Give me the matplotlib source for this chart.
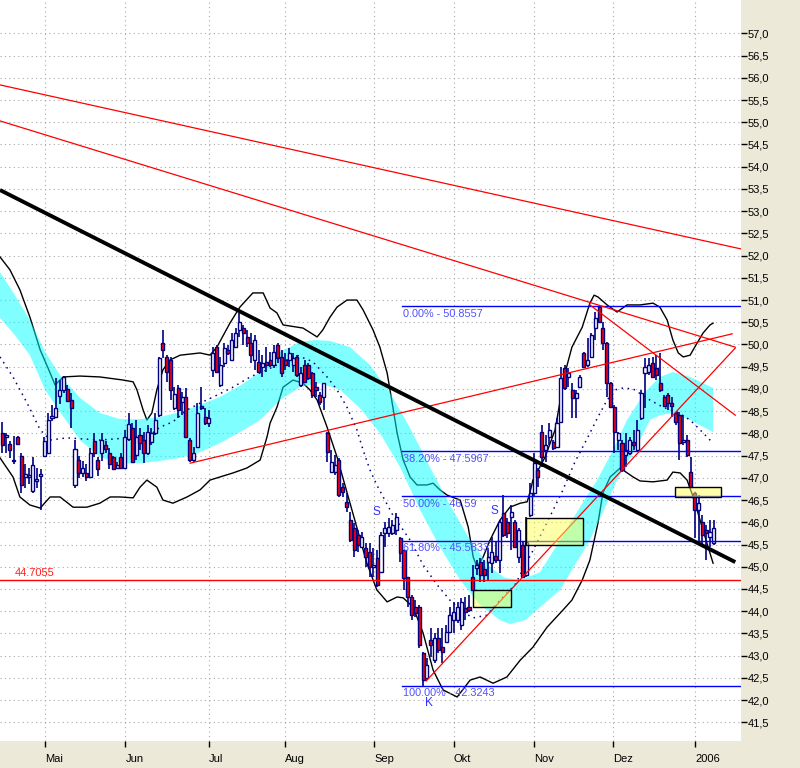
import matplotlib
matplotlib.use('Agg')
import matplotlib.pyplot as plt
from matplotlib.patches import Rectangle
import numpy as np

plt.rcParams['font.family'] = ['Liberation Sans', 'DejaVu Sans']

# ---------------- candle data (trading-day index 0..186) ----------------
opens = [
    48.00, 47.93, 47.77, 47.41, 47.91, 47.50, 47.03, 47.03, 46.70, 46.94,
    47.05, 47.50, 47.57, 48.34, 48.36, 48.85, 48.97, 49.01, 48.76, 46.83,
    47.41, 47.12, 47.12, 47.01, 47.84, 47.41, 47.55, 47.75, 47.55, 47.46,
    47.23, 47.48, 47.23, 47.88, 48.12, 47.51, 47.96, 47.85, 47.56, 47.81,
    48.01, 48.41, 50.03, 49.72, 49.65, 48.57, 49.02, 48.71, 48.82, 47.85,
    47.40, 47.69, 48.62, 48.37, 48.23, 49.43, 49.94, 49.09, 49.58, 49.88,
    49.65, 49.94, 50.33, 50.37, 50.17, 50.03, 49.65, 49.60, 49.49, 49.60,
    49.65, 49.54, 49.99, 49.72, 49.65, 49.65, 49.54, 49.72, 49.09, 49.54,
    49.54, 49.36, 49.04, 48.86, 48.82, 48.01, 47.13, 47.13, 47.40, 46.79,
    46.46, 46.05, 45.87, 45.71, 45.44, 45.42, 45.33, 44.99, 45.20, 44.88,
    45.76, 45.76, 45.76, 45.83, 45.65, 45.38, 44.77, 44.32, 44.09, 44.09,
    43.06, 42.50, 43.35, 42.90, 43.40, 43.19, 43.31, 43.53, 43.80, 43.80,
    43.69, 44.07, 44.09, 44.77, 44.97, 45.11, 44.95, 45.11, 45.08, 45.24,
    45.15, 46.21, 46.01, 46.12, 46.01, 45.22, 45.49, 44.81, 46.16, 46.66,
    47.18, 48.03, 47.63, 47.92, 47.81, 47.69, 48.26, 49.47, 49.27, 48.98,
    48.80, 49.04, 49.81, 49.54, 49.72, 50.37, 50.84, 50.37, 50.03, 49.13,
    48.59, 47.85, 47.78, 47.51, 47.56, 47.81, 47.63, 48.35, 49.36, 49.38,
    49.58, 49.47, 49.13, 48.82, 48.86, 48.68, 48.46, 48.41, 47.81, 47.85,
    47.13, 46.66, 46.28, 46.01, 45.83, 45.67, 45.53,
]
highs = [
    48.25, 48.00, 47.84, 47.95, 47.95, 47.55, 47.32, 47.23, 47.46, 47.23,
    47.21, 47.91, 48.45, 48.63, 49.24, 49.21, 49.30, 49.08, 48.90, 47.86,
    47.50, 47.39, 47.32, 47.68, 48.02, 47.46, 48.00, 47.84, 47.68, 47.50,
    47.35, 47.55, 48.07, 48.45, 48.23, 48.30, 48.12, 48.03, 48.19, 48.12,
    48.46, 49.72, 50.33, 49.76, 49.72, 49.04, 49.09, 48.93, 49.02, 47.90,
    47.69, 48.68, 49.04, 48.57, 48.53, 49.94, 49.99, 49.72, 50.03, 49.99,
    50.26, 50.37, 50.71, 50.44, 50.33, 50.26, 50.21, 49.88, 49.76, 49.94,
    49.83, 49.99, 50.03, 49.88, 49.81, 49.92, 49.81, 49.76, 49.49, 49.65,
    49.58, 49.38, 49.16, 48.93, 49.13, 48.03, 47.63, 47.51, 47.45, 46.88,
    46.66, 46.23, 45.98, 45.83, 45.78, 45.53, 45.53, 45.42, 45.38, 45.78,
    46.01, 46.10, 46.05, 46.21, 45.67, 45.38, 44.77, 44.36, 44.25, 44.14,
    43.08, 42.95, 43.62, 43.51, 43.62, 43.62, 43.69, 44.09, 44.21, 44.21,
    44.30, 44.32, 44.36, 45.04, 45.15, 45.20, 45.15, 45.42, 45.67, 45.56,
    46.05, 46.61, 46.10, 46.39, 46.05, 45.87, 45.56, 46.12, 46.88, 47.56,
    47.22, 48.19, 47.96, 48.23, 47.85, 48.35, 49.49, 49.54, 49.47, 49.13,
    48.98, 49.31, 49.83, 50.15, 50.26, 50.73, 50.86, 50.51, 50.06, 49.16,
    48.64, 48.03, 47.85, 48.01, 47.92, 48.08, 48.30, 48.98, 49.70, 49.70,
    49.72, 49.76, 49.81, 48.86, 48.91, 48.82, 48.48, 48.48, 48.41, 47.96,
    47.47, 46.68, 46.61, 46.16, 45.94, 46.05, 46.05,
]
lows = [
    47.55, 47.55, 47.44, 47.32, 47.73, 46.67, 46.78, 46.87, 46.67, 46.78,
    46.27, 47.46, 47.57, 48.29, 48.36, 48.67, 48.92, 48.70, 48.13, 46.78,
    46.99, 47.01, 46.94, 46.99, 47.46, 47.05, 47.39, 47.55, 47.21, 47.17,
    47.21, 47.21, 47.21, 47.84, 47.33, 47.40, 47.63, 47.33, 47.51, 47.74,
    47.96, 48.37, 49.70, 49.16, 48.75, 48.53, 48.35, 48.41, 47.90, 47.36,
    47.36, 47.69, 48.53, 48.19, 48.14, 49.27, 49.38, 49.04, 49.49, 49.76,
    49.65, 49.92, 50.17, 49.99, 49.94, 49.58, 49.43, 49.36, 49.27, 49.38,
    49.49, 49.47, 49.58, 49.27, 49.43, 49.49, 49.38, 49.27, 49.04, 49.13,
    49.20, 48.80, 48.82, 48.64, 48.53, 47.36, 47.13, 47.06, 46.57, 46.57,
    46.23, 45.56, 45.22, 45.33, 45.42, 44.99, 44.77, 44.77, 44.54, 44.88,
    45.44, 45.67, 45.71, 45.71, 45.11, 44.48, 44.09, 43.80, 43.87, 43.17,
    42.32, 42.45, 42.97, 42.83, 43.06, 42.83, 43.28, 43.51, 43.51, 43.73,
    43.58, 43.80, 43.98, 44.48, 44.81, 44.66, 44.66, 44.70, 44.86, 45.08,
    44.86, 45.67, 45.65, 45.38, 45.44, 45.08, 44.75, 44.77, 46.12, 46.57,
    46.79, 47.24, 47.36, 47.74, 47.63, 47.69, 48.23, 48.98, 49.04, 48.35,
    48.35, 49.02, 49.47, 49.49, 49.70, 50.10, 50.51, 49.88, 48.82, 48.59,
    47.56, 47.63, 47.13, 47.24, 47.51, 47.63, 47.58, 48.30, 48.57, 49.31,
    49.27, 49.20, 48.93, 48.59, 48.53, 48.37, 48.19, 47.40, 47.74, 47.47,
    46.79, 45.65, 45.49, 45.49, 45.15, 45.44, 45.49,
]
closes = [
    47.73, 47.95, 47.62, 47.37, 47.77, 46.83, 47.08, 47.05, 47.30, 46.96,
    47.08, 47.82, 48.31, 48.40, 48.58, 48.97, 49.26, 48.74, 48.58, 47.66,
    47.12, 47.23, 47.01, 47.57, 47.55, 47.21, 47.86, 47.66, 47.32, 47.21,
    47.30, 47.23, 47.91, 48.22, 47.36, 47.92, 47.78, 47.56, 48.03, 48.01,
    48.30, 49.70, 49.88, 49.38, 48.98, 48.89, 48.53, 48.82, 47.92, 47.40,
    47.56, 48.46, 48.57, 48.23, 48.35, 49.81, 49.38, 49.54, 49.92, 49.81,
    50.10, 50.26, 50.51, 50.26, 50.03, 49.76, 50.10, 49.38, 49.58, 49.54,
    49.54, 49.83, 49.70, 49.36, 49.54, 49.81, 49.70, 49.31, 49.36, 49.16,
    49.25, 48.86, 48.98, 48.71, 49.13, 47.58, 47.36, 47.29, 46.61, 46.68,
    46.34, 45.60, 45.38, 45.49, 45.67, 45.22, 44.99, 45.04, 44.59, 45.71,
    45.87, 45.89, 45.94, 46.12, 45.31, 44.75, 44.32, 43.91, 43.96, 43.24,
    42.45, 42.79, 43.24, 43.40, 43.13, 43.08, 43.53, 43.91, 43.98, 44.09,
    44.21, 43.98, 44.03, 44.48, 45.04, 44.81, 44.81, 45.22, 45.33, 45.15,
    46.01, 45.71, 45.76, 46.23, 45.44, 45.83, 44.77, 45.56, 46.66, 47.33,
    47.02, 47.47, 47.74, 48.08, 47.67, 48.23, 49.25, 49.02, 49.36, 48.80,
    48.91, 49.27, 49.49, 49.65, 50.21, 50.60, 50.51, 50.03, 49.13, 48.59,
    48.03, 48.01, 47.18, 47.63, 47.85, 47.74, 48.08, 48.91, 49.49, 49.54,
    49.27, 49.31, 48.98, 48.62, 48.68, 48.62, 48.26, 47.78, 47.85, 47.51,
    46.79, 46.28, 46.43, 45.71, 45.76, 45.78, 45.87,
]

# ---------------- axis labels ----------------
month_labels = ['Mai', 'Jun', 'Jul', 'Aug', 'Sep', 'Okt', 'Nov', 'Dez', '2006']
month_pos = [11.2, 32.2, 54.0, 73.9, 97.2, 118.0, 138.9, 159.7, 181.1]

# ---------------- Bollinger bands ----------------
bb_up_x = [-0.6, 2.0, 4.6, 7.2, 9.9, 12.5, 13.8, 15.9, 20.3, 25.5, 31.6, 34.2, 35.2, 36.8, 37.8,
           39.1, 40.4, 42.0, 43.8, 46.5, 51.7, 54.3, 56.1, 59.5, 62.1, 65.5, 68.2, 70.0, 71.8,
           73.4, 78.6, 82.3, 83.8, 85.7, 87.5, 90.1, 92.7, 94.3, 96.9, 98.7, 100.6, 102.1, 103.2,
           104.8, 106.6, 108.4, 111.0, 112.6, 114.4, 116.3, 119.7, 121.8, 123.1, 124.1, 125.7,
           127.5, 130.1, 132.7, 135.4, 137.2, 137.9, 138.7, 141.9, 144.5, 147.1, 148.9, 151.6,
           153.6, 154.7, 155.7, 158.1, 160.7, 163.3, 166.7, 170.1, 171.9, 173.8, 175.3, 176.7,
           178.0, 179.8, 181.6, 183.2, 185.0, 185.8]
bb_up = [51.97, 51.68, 51.23, 50.62, 49.88, 49.36, 49.09, 49.27, 49.29, 49.27, 49.20, 49.16, 48.98,
         48.53, 48.30, 48.46, 48.98, 49.43, 49.65, 49.76, 49.81, 49.76, 49.94, 50.48, 50.84, 51.16,
         51.16, 50.82, 50.71, 50.44, 50.37, 50.17, 50.33, 50.62, 50.84, 51.00, 51.00, 50.78, 50.33,
         49.94, 49.36, 48.59, 48.01, 47.40, 47.02, 46.84, 46.84, 46.88, 46.73, 46.61, 46.50, 45.89,
         45.22, 44.99, 45.22, 45.60, 46.05, 46.34, 46.43, 46.46, 46.66, 46.95, 47.47, 48.08, 49.36,
         49.94, 50.39, 50.93, 51.11, 51.07, 50.89, 50.73, 50.89, 50.89, 50.93, 50.84, 50.55, 50.10,
         49.81, 49.72, 49.76, 50.03, 50.26, 50.44, 50.48]
bb_lo_x = [-0.6, 2.8, 4.6, 7.2, 9.9, 12.5, 15.1, 18.5, 22.1, 25.5, 28.2, 30.8, 34.2, 36.0, 37.8,
           40.4, 42.0, 44.6, 48.3, 51.7, 54.3, 56.9, 60.3, 63.9, 67.4, 69.2, 70.0, 71.8, 73.4,
           76.0, 78.6, 80.4, 82.3, 84.9, 87.5, 90.9, 95.3, 97.9, 100.6, 103.2, 104.8, 107.4,
           110.0, 112.6, 115.2, 118.9, 122.3, 124.9, 128.3, 131.9, 135.4, 138.7, 142.4, 146.6,
           148.9, 151.6, 153.6, 155.7, 157.0, 158.9, 161.5, 164.9, 166.7, 170.1, 173.8, 175.3,
           177.2, 179.0, 180.6, 182.4, 184.2, 185.8]
bb_lo = [47.45, 47.02, 46.57, 46.39, 46.32, 46.57, 46.57, 46.34, 46.34, 46.43, 46.57, 46.57, 46.55,
         46.79, 46.95, 46.79, 46.50, 46.43, 46.57, 46.73, 46.95, 47.02, 47.11, 47.22, 47.40, 47.92,
         48.23, 48.59, 49.04, 49.20, 49.13, 48.98, 48.75, 48.14, 47.47, 46.43, 45.08, 44.48, 44.21,
         44.32, 44.30, 44.09, 43.51, 42.68, 42.23, 42.07, 42.45, 42.52, 42.38, 42.52, 42.90, 43.19,
         43.64, 44.03, 44.25, 44.70, 45.15, 45.98, 46.66, 47.02, 47.22, 47.02, 46.93, 46.91, 46.95,
         47.13, 47.11, 46.95, 46.57, 46.05, 45.53, 45.08]
bb_mid_x = [-0.6, 2.8, 6.5, 9.9, 12.5, 16.9, 25.5, 36.0, 38.6, 41.2, 44.6, 48.3, 51.7, 56.1, 60.3,
            64.8, 69.2, 73.4, 77.0, 81.2, 84.9, 87.5, 90.1, 92.7, 94.3, 96.1, 97.9, 102.1, 106.6,
            110.0, 113.7, 117.0, 120.4, 123.1, 126.7, 130.1, 134.0, 138.5, 142.7, 146.3, 149.7,
            153.1, 155.7, 158.1, 160.2, 162.3, 164.9, 169.3, 172.7, 176.4, 179.8, 182.4, 185.8]
bb_mid = [49.72, 49.27, 48.68, 48.08, 47.85, 47.90, 47.85, 47.92, 47.96, 48.14, 48.26, 48.53, 48.68,
          48.86, 49.04, 49.27, 49.43, 49.61, 49.76, 49.61, 49.27, 48.98, 48.59, 48.08, 47.63, 47.18,
          46.84, 46.16, 45.60, 45.04, 44.59, 44.25, 43.98, 43.85, 43.91, 44.25, 44.59, 45.33, 46.05,
          46.68, 47.36, 47.92, 48.37, 48.75, 48.98, 49.02, 49.00, 48.75, 48.59, 48.48, 48.30, 48.08,
          47.78]

# ---------------- cyan channel ----------------
band_top_x = [-0.6, 3.3, 7.2, 11.2, 15.1, 20.3, 25.5, 30.8, 36.0, 41.2, 46.5, 51.7, 56.9, 62.1,
              67.4, 72.6, 77.8, 81.8, 85.7, 90.9, 96.1, 101.4, 106.6, 111.8, 117.0, 122.3, 127.5,
              131.4, 135.4, 140.6, 145.8, 151.0, 155.5, 159.4, 163.3, 168.0, 171.9, 175.3, 179.8,
              185.8]
band_top = [51.63, 51.11, 50.55, 49.83, 49.31, 48.80, 48.46, 48.32, 48.32, 48.37, 48.48, 48.64,
            48.82, 49.07, 49.38, 49.83, 50.06, 50.10, 50.08, 49.94, 49.54, 48.91, 48.12, 47.24,
            46.39, 45.60, 44.99, 44.75, 44.70, 44.88, 45.60, 46.34, 46.95, 47.58, 48.30, 48.93,
            49.27, 49.38, 49.27, 49.02]
band_bot_x = [-0.6, 3.3, 7.2, 11.2, 15.1, 20.3, 25.5, 30.8, 36.0, 41.2, 46.5, 51.7, 56.9, 62.1,
              67.4, 72.6, 77.8, 83.1, 88.3, 93.5, 98.7, 104.0, 109.2, 114.4, 119.7, 124.9, 130.1,
              132.7, 136.7, 140.6, 145.8, 149.7, 153.6, 157.6, 160.7, 165.4, 169.3, 171.9, 175.3,
              179.8, 185.8]
band_bot = [50.60, 50.21, 49.76, 48.98, 48.48, 47.85, 47.47, 47.33, 47.33, 47.38, 47.45, 47.58,
            47.78, 48.03, 48.30, 48.75, 49.04, 49.13, 48.98, 48.57, 48.01, 47.24, 46.28, 45.44,
            44.70, 44.14, 43.80, 43.71, 43.80, 44.09, 44.48, 45.04, 45.60, 46.34, 46.95, 47.63,
            48.30, 48.41, 48.46, 48.30, 48.03]

# ---------------- drawings ----------------
fib_levels = [50.8557, 47.5967, 46.59, 45.5833, 42.3243]
fib_labels = ['0.00% - 50.8557', '38.20% - 47.5967', '50.00% - 46.59',
              '61.80% - 45.5833', '100.00% - 42.3243']
fib_start = 104.5
support_level = 44.7055
support_label = '44.7055'

black_trend = [(-0.6, 53.475), (191.6, 45.105)]
red_lines = [
    [(-0.6, 55.84), (193.1, 52.15)],
    [(-0.6, 55.03), (191.6, 49.94)],
    [(49.1, 47.33), (190.8, 50.24)],
    [(153.6, 50.89), (191.6, 48.41)],
    [(110.8, 42.43), (191.6, 49.92)],
]
boxes = [(123.0, 132.9, 44.10, 44.475), (136.9, 151.8, 45.49, 46.095), (175.9, 187.8, 46.575, 46.79)]
markers = [('S', 97.9, 46.23), ('S', 128.6, 46.25), ('K', 111.6, 41.93)]

# ---------------- figure ----------------
BG = '#ECE9D8'
fig = plt.figure(figsize=(8, 7.68), dpi=100, facecolor=BG)
ax = fig.add_axes([0, 27 / 768, 741 / 800, 741 / 768])
ax.set_facecolor('white')
ax.set_xlim(-0.6, 193.1)
ax.set_ylim(41.08, 57.75)
for s in ax.spines.values():
    s.set_visible(False)

ax.set_axisbelow(True)
ax.grid(True, color='#A8A8A8', linestyle=(0, (1, 3)), linewidth=0.8)

# Bollinger lines (under the cyan band)
ax.plot(bb_up_x, bb_up, color='black', lw=1.0, zorder=1)
ax.plot(bb_lo_x, bb_lo, color='black', lw=1.0, zorder=1)

# cyan channel
poly_x = list(band_top_x) + list(band_bot_x[::-1])
poly_y = list(band_top) + list(band_bot[::-1])
ax.fill(poly_x, poly_y, color='#00FFFF', alpha=0.5, lw=0, zorder=2)

ax.plot(bb_mid_x, bb_mid, color='#000080', lw=1.1, linestyle=(0, (1, 3)), zorder=3)

# candles
idx = np.arange(len(closes))
o = np.array(opens); c = np.array(closes); h = np.array(highs); l = np.array(lows)
ax.vlines(idx, l, h, color='#000080', lw=1.2, zorder=4)
bottom = np.minimum(o, c)
height = np.maximum(np.abs(c - o), 0.025)
fills = ['#FF0000' if cc < oo else 'white' for oo, cc in zip(o, c)]
ax.bar(idx, height, bottom=bottom, width=0.8, color=fills, edgecolor='#000080',
       linewidth=1.0, zorder=4.5)

# support line
ax.axhline(support_level, color='#FF0000', lw=1.0, zorder=5)
ax.text(3.3, support_level + 0.05, support_label, color='#FF2020', fontsize=8,
        ha='left', va='bottom', zorder=8)

# fib lines
for lev, lab in zip(fib_levels, fib_labels):
    ax.plot([fib_start, 193.1], [lev, lev], color='#0000FF', lw=1.0, zorder=5)
    ax.text(fib_start + 0.3, lev - 0.06, lab, color='#5050FF', fontsize=7.8,
            ha='left', va='top', zorder=8)

# red trendlines
for ln in red_lines:
    ax.plot([ln[0][0], ln[1][0]], [ln[0][1], ln[1][1]], color='#FF0000', lw=0.9, zorder=5)

# boxes
for x0, x1, y0, y1 in boxes:
    ax.add_patch(Rectangle((x0, y0), x1 - x0, y1 - y0, facecolor='#FFFF55', alpha=0.5,
                           edgecolor='none', zorder=6))
    ax.add_patch(Rectangle((x0, y0), x1 - x0, y1 - y0, facecolor='none',
                           edgecolor='black', lw=1.0, zorder=6.1))

# black trend
ax.plot([black_trend[0][0], black_trend[1][0]], [black_trend[0][1], black_trend[1][1]],
        color='black', lw=2.8, zorder=6.5, solid_capstyle='butt')

for t, x, y in markers:
    ax.text(x, y, t, color='#3030FF', fontsize=8.5, ha='center', va='center', zorder=8)

# axes ticks
yt = np.arange(41.5, 57.01, 0.5)
ax.yaxis.tick_right()
ax.set_yticks(yt)
ax.set_yticklabels([('%.1f' % v).replace('.', ',') for v in yt])
ax.tick_params(axis='y', direction='out', length=4, width=1, pad=1, labelsize=8, colors='black')
ax.set_xticks(month_pos)
ax.set_xticklabels(month_labels)
ax.tick_params(axis='x', direction='out', length=4, width=1, pad=5, labelsize=8, colors='black')
for lab in ax.get_xticklabels():
    lab.set_ha('left')

fig.savefig('out.png', dpi=100, facecolor=BG)
